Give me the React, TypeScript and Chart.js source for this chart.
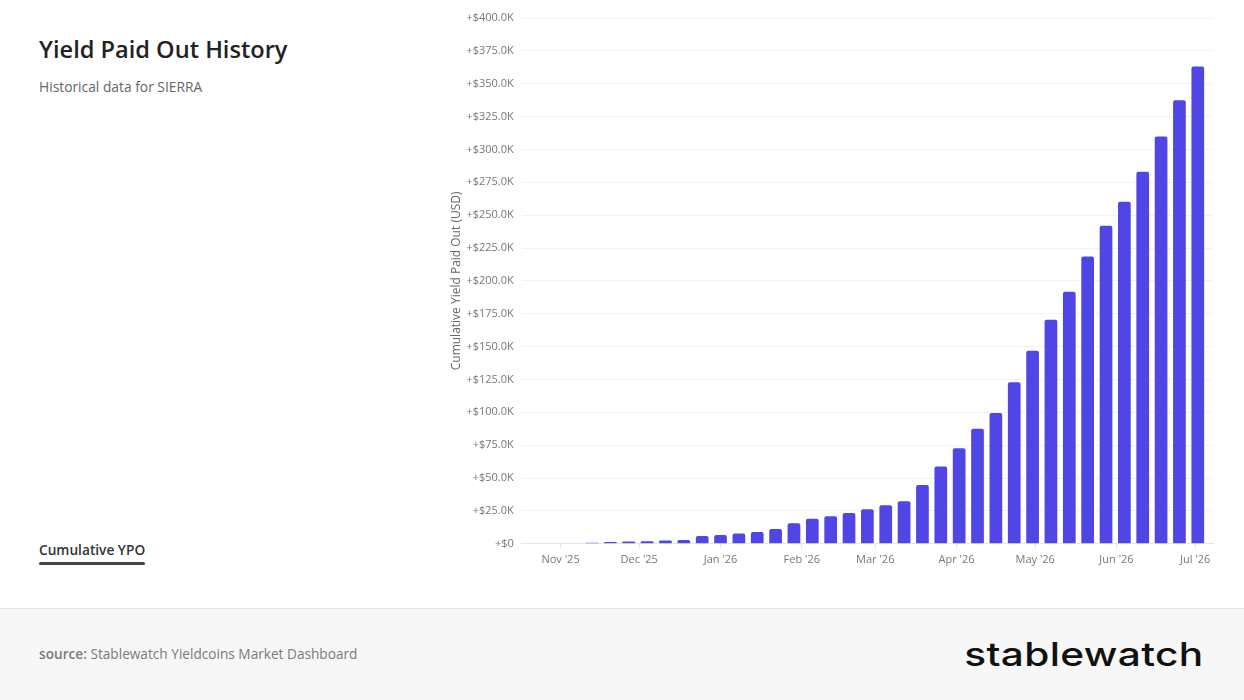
import React, { useEffect, useRef } from "react";
import { Chart, registerables } from "chart.js";

Chart.register(...registerables);

// Weekly snapshot dates (Thursdays)
const weekDates: string[] = [
  "2025-11-13", "2025-11-20", "2025-11-27", "2025-12-04", "2025-12-11", "2025-12-18",
  "2025-12-25", "2026-01-01", "2026-01-08", "2026-01-15", "2026-01-22", "2026-01-29",
  "2026-02-05", "2026-02-12", "2026-02-19", "2026-02-26", "2026-03-05", "2026-03-12",
  "2026-03-19", "2026-03-26", "2026-04-02", "2026-04-09", "2026-04-16", "2026-04-23",
  "2026-04-30", "2026-05-07", "2026-05-14", "2026-05-21", "2026-05-28", "2026-06-04",
  "2026-06-11", "2026-06-18", "2026-06-25", "2026-07-02",
];

// Cumulative yield paid out (USD)
const cumulativeYPO: number[] = [
  800, 1300, 1800, 2000, 2600, 2800,
  5900, 6600, 7900, 8900, 11200, 15600,
  19100, 20900, 23500, 26300, 29300, 32400,
  44700, 58800, 72700, 87600, 99500, 122900,
  146900, 170400, 191800, 218600, 242000, 260300,
  283000, 309800, 337400, 363100,
];

// Month tick positions and labels
const monthTickDates: string[] = [
  "2025-11-01", "2025-12-01", "2026-01-01", "2026-02-01", "2026-03-01",
  "2026-04-01", "2026-05-01", "2026-06-01", "2026-07-01",
];
const monthTickLabels: string[] = [
  "Nov '25", "Dec '25", "Jan '26", "Feb '26", "Mar '26",
  "Apr '26", "May '26", "Jun '26", "Jul '26",
];

const axisStart = "2025-10-17";
const axisEnd = "2026-07-08";

const toDay = (s: string): number => Date.parse(s + "T00:00:00Z") / 86400000;

const FONT = "'Open Sans', 'Noto Sans', sans-serif";

function YieldChart() {
  const ref = useRef<HTMLCanvasElement | null>(null);
  useEffect(() => {
    if (!ref.current) return;
    const tickDays = monthTickDates.map(toDay);
    const chart = new Chart(ref.current, {
      type: "bar",
      data: {
        datasets: [
          {
            label: "Cumulative YPO",
            data: weekDates.map((d, i) => ({ x: toDay(d), y: cumulativeYPO[i] })),
            backgroundColor: "#5046e5",
            borderRadius: 2,
            categoryPercentage: 0.8,
            barPercentage: 0.865,
          },
        ],
      },
      options: {
        animation: false,
        responsive: true,
        maintainAspectRatio: false,
        layout: { padding: { left: 0, right: 31, top: 18, bottom: 10 } },
        plugins: {
          legend: { display: false },
          tooltip: { enabled: false },
        },
        scales: {
          x: {
            type: "linear",
            min: toDay(axisStart) + 0.2,
            max: toDay(axisEnd) - 0.2,
            offset: false,
            afterBuildTicks: (scale: any) => {
              scale.ticks = tickDays.map((v) => ({ value: v }));
            },
            ticks: {
              autoSkip: false,
              maxRotation: 0,
              color: "#777",
              font: { family: FONT, size: 11 },
              padding: 4,
              callback: (v: any) => {
                const idx = tickDays.indexOf(Number(v));
                return idx >= 0 ? monthTickLabels[idx] : "";
              },
            },
            grid: {
              drawOnChartArea: false,
              drawTicks: true,
              tickLength: 5,
              color: "#e3e3e3",
              offset: false,
            },
            border: { display: true, color: "#e6e6e6" },
          },
          y: {
            min: 0,
            max: 400000,
            ticks: {
              stepSize: 25000,
              color: "#777",
              font: { family: FONT, size: 11 },
              padding: 8,
              callback: (v: any) =>
                Number(v) === 0 ? "+$0" : "+$" + (Number(v) / 1000).toFixed(1) + "K",
            },
            grid: { color: "#f2f2f2", drawTicks: false },
            border: { display: false },
            title: {
              display: true,
              text: "Cumulative Yield Paid Out (USD)",
              color: "#666",
              font: { family: FONT, size: 12 },
              padding: { top: 9, bottom: -5 },
            },
          },
        },
      },
    });
    return () => chart.destroy();
  }, []);
  return <canvas ref={ref} />;
}

export default function App() {
  return (
    <div
      style={{
        position: "absolute",
        left: 0,
        top: 0,
        width: 1244,
        height: 700,
        background: "#ffffff",
        fontFamily: FONT,
        overflow: "hidden",
      }}
    >
      <div
        style={{
          position: "absolute",
          left: 39,
          top: 33,
          fontSize: 23.6,
          fontWeight: 600,
          color: "#222",
          whiteSpace: "nowrap",
          lineHeight: "32px",
        }}
      >
        Yield Paid Out History
      </div>
      <div
        style={{
          position: "absolute",
          left: 39,
          top: 77,
          fontSize: 13.8,
          color: "#666",
          whiteSpace: "nowrap",
          lineHeight: "20px",
        }}
      >
        Historical data for SIERRA
      </div>
      <div
        style={{
          position: "absolute",
          left: 39,
          top: 540,
          fontSize: 13.7,
          fontWeight: 600,
          color: "#333",
          whiteSpace: "nowrap",
          lineHeight: "20px",
        }}
      >
        Cumulative YPO
        <div
          style={{
            height: 3,
            background: "#444",
            borderRadius: 2,
            marginTop: 2,
          }}
        />
      </div>
      <div
        style={{
          position: "absolute",
          left: 440,
          top: 0,
          width: 804,
          height: 580,
        }}
      >
        <YieldChart />
      </div>
      <div
        style={{
          position: "absolute",
          left: 0,
          top: 608,
          width: 1244,
          height: 92,
          background: "#f7f7f7",
          borderTop: "1px solid #e4e4e4",
        }}
      >
        <div
          style={{
            position: "absolute",
            left: 39,
            top: 35,
            fontSize: 13.65,
            color: "#7a7a7a",
            whiteSpace: "nowrap",
            lineHeight: "20px",
          }}
        >
          <span style={{ fontWeight: 600 }}>source:</span> Stablewatch Yieldcoins Market Dashboard
        </div>
        <div
          style={{
            position: "absolute",
            right: 40,
            top: 23,
            fontSize: 33,
            fontWeight: 500,
            color: "#111",
            whiteSpace: "nowrap",
            lineHeight: "44px",
            fontFamily: "Inter, 'Open Sans', sans-serif",
            letterSpacing: "0.3px",
            transform: "scaleX(1.23)",
            transformOrigin: "right center",
          }}
        >
          stablewatch
        </div>
      </div>
    </div>
  );
}
